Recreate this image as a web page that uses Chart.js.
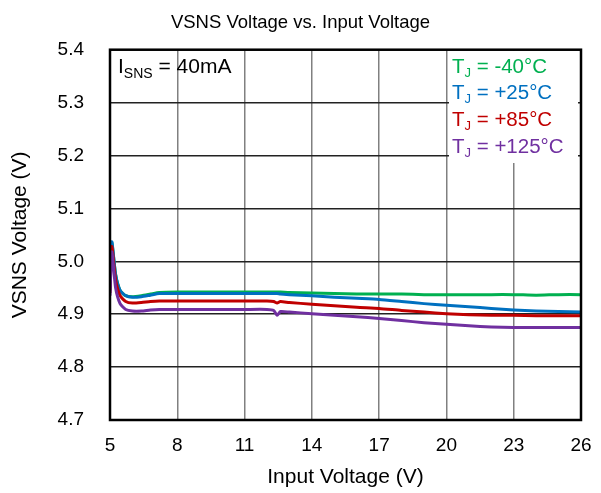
<!DOCTYPE html>
<html>
<head>
<meta charset="utf-8">
<script src="https://cdn.jsdelivr.net/npm/chart.js@4.4.1/dist/chart.umd.min.js"></script>
<style>
    html, body { margin: 0; padding: 0; background: #fff; }
    #wrap { width: 601px; height: 493px; }
</style>
</head>
<body>
<div id="wrap"><canvas id="chart"></canvas></div>
<script>
const FONT = "'Liberation Sans', Arial, sans-serif";

// input voltage sweep (V)
const vin = [5.0, 5.08, 5.25, 5.45, 5.7, 6.0, 6.4, 6.8, 7.2, 8, 9, 10, 11, 12, 12.3, 12.45, 12.6, 13,
    14, 15, 16, 17, 18, 19, 20, 21, 22, 23, 24, 25, 26];

// VSNS (V) per junction temperature
const vsnsM40 = [4.945, 5.035, 4.975, 4.945, 4.935, 4.933, 4.935, 4.938, 4.941, 4.942, 4.942, 4.942, 4.942, 4.942, 4.942, 4.942, 4.942, 4.941,
    4.940, 4.939, 4.938, 4.938, 4.938, 4.937, 4.937, 4.937, 4.937, 4.937, 4.936, 4.937, 4.937];
const vsns25 = [4.95, 5.037, 4.975, 4.945, 4.935, 4.932, 4.933, 4.936, 4.939, 4.939, 4.939, 4.939, 4.939, 4.939, 4.939, 4.939, 4.938, 4.937,
    4.935, 4.932, 4.930, 4.928, 4.924, 4.920, 4.917, 4.914, 4.911, 4.908, 4.906, 4.905, 4.904];
const vsns85 = [4.94, 5.028, 4.965, 4.935, 4.924, 4.921, 4.922, 4.924, 4.925, 4.925, 4.925, 4.925, 4.925, 4.925, 4.924, 4.921, 4.924, 4.922,
    4.919, 4.916, 4.913, 4.911, 4.907, 4.904, 4.901, 4.899, 4.898, 4.898, 4.897, 4.897, 4.897];
const vsns125 = [4.935, 5.018, 4.95, 4.92, 4.909, 4.906, 4.906, 4.908, 4.909, 4.909, 4.909, 4.909, 4.909, 4.909, 4.907, 4.898, 4.905, 4.904,
    4.901, 4.898, 4.895, 4.892, 4.888, 4.884, 4.881, 4.878, 4.876, 4.875, 4.875, 4.875, 4.875];

const tempLabels = ["-40°C", "+25°C", "+85°C", "+125°C"];
const colors = ["#00B050", "#0070C0", "#C00000", "#7030A0"];
const series = [vsnsM40, vsns25, vsns85, vsns125];

function toPoints(ys) {
    return vin.map((x, i) => ({x: x, y: ys[i]}));
}

// white box behind the temperature legend, frame and text notes
const notes = {
    id: "notes",
    beforeDatasetsDraw(chart) {
        const ctx = chart.ctx;
        ctx.save();
        ctx.fillStyle = "#fff";
        ctx.fillRect(449, 51, 129, 112);
        ctx.restore();
    },
    afterDraw(chart) {
        const ctx = chart.ctx;
        const a = chart.chartArea;
        ctx.save();
        ctx.strokeStyle = "#000";
        ctx.lineWidth = 2.5;
        ctx.strokeRect(a.left, a.top, a.right - a.left, a.bottom - a.top);

        ctx.textBaseline = "middle";
        ctx.textAlign = "left";
        // current note
        let x = 118;
        ctx.fillStyle = "#000";
        ctx.font = "21px " + FONT;
        ctx.fillText("I", x, 67);
        x += ctx.measureText("I").width;
        ctx.font = "14px " + FONT;
        ctx.fillText("SNS", x, 74);
        x += ctx.measureText("SNS").width;
        ctx.font = "21px " + FONT;
        ctx.fillText(" = 40mA", x, 67);

        // temperature legend
        for (let i = 0; i < tempLabels.length; i++) {
            const y = 67 + i * 26.7;
            let tx = 452;
            ctx.fillStyle = colors[i];
            ctx.font = "20.5px " + FONT;
            ctx.fillText("T", tx, y);
            tx += ctx.measureText("T").width;
            ctx.font = "13px " + FONT;
            ctx.fillText("J", tx, y + 6);
            tx += ctx.measureText("J").width;
            ctx.font = "20.5px " + FONT;
            ctx.fillText(" = " + tempLabels[i], tx, y);
        }
        ctx.restore();
    }
};

const datasets = [];
for (let i = series.length - 1; i >= 0; i--) {
    datasets.push({
        label: "TJ = " + tempLabels[i],
        data: toPoints(series[i]),
        borderColor: colors[i],
        borderWidth: 3,
        pointRadius: 0,
        tension: 0.2,
        fill: false
    });
}

new Chart(document.getElementById("chart"), {
    type: "line",
    data: { datasets: datasets },
    options: {
        responsive: true,
        maintainAspectRatio: false,
        animation: false,
        layout: { padding: 0 },
        plugins: {
            legend: { display: false },
            tooltip: { enabled: false },
            title: {
                display: true,
                text: "VSNS Voltage vs. Input Voltage",
                color: "#000",
                font: { family: FONT, size: 18.5, weight: "normal" },
                padding: { top: 12, bottom: 15.5 }
            }
        },
        scales: {
            x: {
                type: "linear",
                min: 5,
                max: 26,
                afterFit: (s) => { s.height = 73; s.paddingRight = 20; },
                ticks: {
                    stepSize: 3,
                    color: "#000",
                    padding: 14,
                    font: { family: FONT, size: 19 }
                },
                grid: { color: "#808080", lineWidth: 1.5, drawTicks: false },
                border: { display: false },
                title: {
                    display: true,
                    text: "Input Voltage (V)",
                    color: "#000",
                    font: { family: FONT, size: 21 },
                    padding: { top: 0, bottom: 3 }
                }
            },
            y: {
                min: 4.7,
                max: 5.4,
                afterFit: (s) => { s.width = 110; },
                ticks: {
                    stepSize: 0.1,
                    color: "#000",
                    padding: 26,
                    font: { family: FONT, size: 19 },
                    callback: (v) => v.toFixed(1)
                },
                grid: { color: "#222", lineWidth: 1.5, drawTicks: false },
                border: { display: false },
                title: {
                    display: true,
                    text: "VSNS Voltage (V)",
                    color: "#000",
                    font: { family: FONT, size: 21 },
                    padding: { top: 8, bottom: 0 }
                }
            }
        }
    },
    plugins: [notes]
});
</script>
</body>
</html>
